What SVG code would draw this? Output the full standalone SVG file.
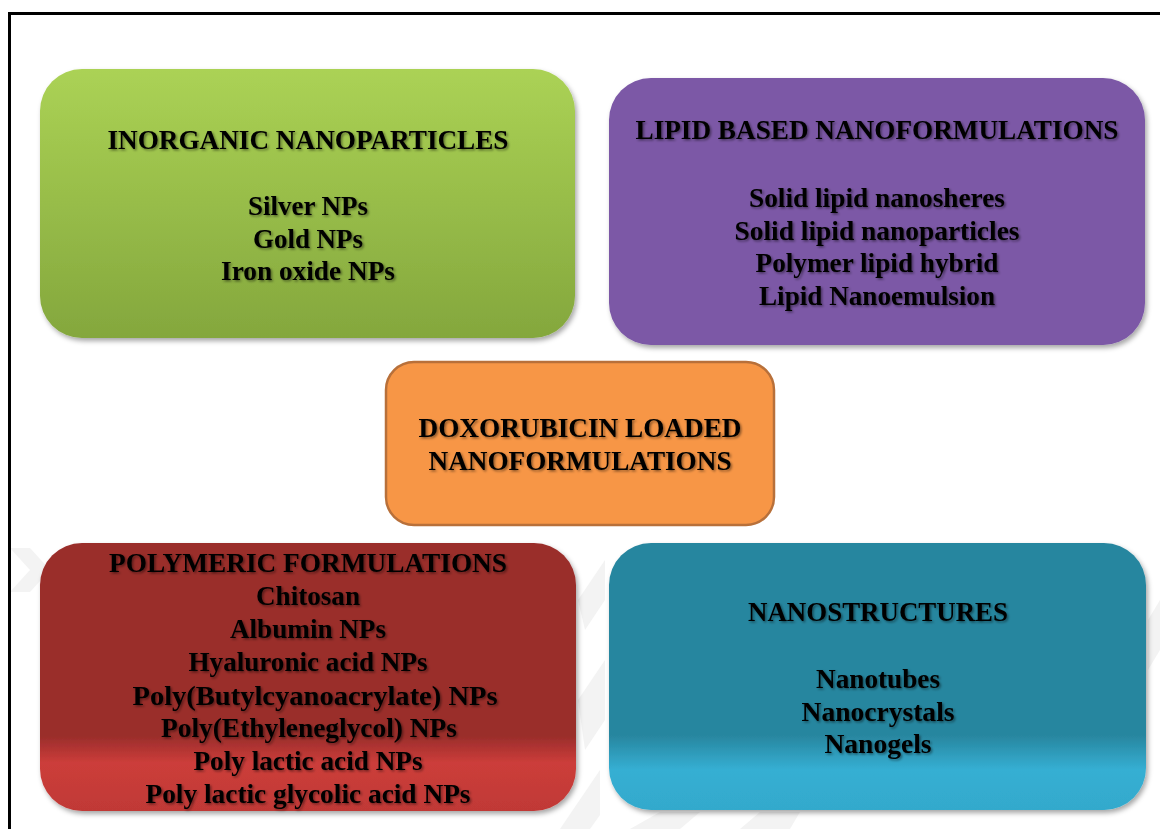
<svg xmlns="http://www.w3.org/2000/svg" width="1160" height="829" viewBox="0 0 1160 829">
  <defs>
    <style>
      .t { font-family: "Liberation Serif", "Times New Roman", serif; font-weight: bold; font-size: 28px; fill: #000; text-anchor: middle; filter: url(#tshadow); }
      .box { filter: url(#bshadow); }
      .wm { fill: #f3f3f3; }
    </style>
    <filter id="tshadow" x="-5%" y="-30%" width="110%" height="160%">
      <feDropShadow dx="1.5" dy="1.5" stdDeviation="1.2" flood-color="#000" flood-opacity="0.45"/>
    </filter>
    <filter id="bshadow" x="-5%" y="-5%" width="112%" height="115%">
      <feDropShadow dx="2" dy="3" stdDeviation="2.5" flood-color="#000" flood-opacity="0.35"/>
    </filter>
    <linearGradient id="gGreen" x1="0" y1="0" x2="0" y2="1">
      <stop offset="0" stop-color="#abd255"/>
      <stop offset="1" stop-color="#84a73d"/>
    </linearGradient>
    <linearGradient id="gRed" x1="0" y1="0" x2="0" y2="1">
      <stop offset="0" stop-color="#9a2d2b"/>
      <stop offset="0.72" stop-color="#9a2d2b"/>
      <stop offset="0.82" stop-color="#cc3d3a"/>
      <stop offset="1" stop-color="#c03936"/>
    </linearGradient>
    <linearGradient id="gTeal" x1="0" y1="0" x2="0" y2="1">
      <stop offset="0" stop-color="#28869f"/>
      <stop offset="0.72" stop-color="#28869f"/>
      <stop offset="0.85" stop-color="#35afd3"/>
      <stop offset="1" stop-color="#33a9cc"/>
    </linearGradient>
  </defs>

  <rect width="1160" height="829" fill="#fff"/>

  <!-- faint watermark -->
  <g id="watermark">
    <polygon class="wm" points="10,548 30,548 50,570 30,592 10,592 30,570"/>
    <polygon class="wm" points="560,829 590,829 600,815 600,770"/>
    <polygon class="wm" points="578,600 605,560 605,600 585,630"/>
    <polygon class="wm" points="578,700 605,660 605,720 585,750"/>
    <polygon class="wm" points="630,829 660,812 700,812 680,829"/>
    <polygon class="wm" points="740,829 760,812 800,812 790,829"/>
    <polygon class="wm" points="1148,620 1160,600 1160,650 1148,670"/>
  </g>

  <!-- frame -->
  <polyline points="9.5,829 9.5,13.5 1160,13.5" fill="none" stroke="#000" stroke-width="3"/>

  <g id="connectors"></g>

  <g id="inorganic">
    <rect class="box" x="40" y="69" width="535" height="269" rx="42" ry="42" fill="url(#gGreen)"/>
    <text class="t" x="308" y="149" textLength="401" lengthAdjust="spacingAndGlyphs">INORGANIC NANOPARTICLES</text>
    <text class="t" x="308" y="215" textLength="120" lengthAdjust="spacingAndGlyphs">Silver NPs</text>
    <text class="t" x="308" y="248" textLength="110" lengthAdjust="spacingAndGlyphs">Gold NPs</text>
    <text class="t" x="308" y="280" textLength="174" lengthAdjust="spacingAndGlyphs">Iron oxide NPs</text>
  </g>

  <g id="lipid">
    <rect class="box" x="609" y="78" width="536" height="267" rx="42" ry="42" fill="#7b58a6"/>
    <text class="t" x="877" y="139" textLength="483" lengthAdjust="spacingAndGlyphs">LIPID BASED NANOFORMULATIONS</text>
    <text class="t" x="877" y="207" textLength="256" lengthAdjust="spacingAndGlyphs">Solid lipid nanosheres</text>
    <text class="t" x="877" y="240" textLength="285" lengthAdjust="spacingAndGlyphs">Solid lipid nanoparticles</text>
    <text class="t" x="877" y="272" textLength="243" lengthAdjust="spacingAndGlyphs">Polymer lipid hybrid</text>
    <text class="t" x="877" y="305" textLength="236" lengthAdjust="spacingAndGlyphs">Lipid Nanoemulsion</text>
  </g>

  <g id="doxorubicin">
    <rect x="386" y="362" width="388" height="163" rx="28" ry="28" fill="#f79646" stroke="#b8703a" stroke-width="2.5"/>
    <text class="t" x="580" y="437" textLength="323" lengthAdjust="spacingAndGlyphs">DOXORUBICIN LOADED</text>
    <text class="t" x="580" y="470" textLength="303" lengthAdjust="spacingAndGlyphs">NANOFORMULATIONS</text>
  </g>

  <g id="polymeric">
    <rect class="box" x="40" y="543" width="536" height="268" rx="42" ry="42" fill="url(#gRed)"/>
    <text class="t" x="308" y="572" textLength="398" lengthAdjust="spacingAndGlyphs">POLYMERIC FORMULATIONS</text>
    <text class="t" x="308" y="605" textLength="104" lengthAdjust="spacingAndGlyphs">Chitosan</text>
    <text class="t" x="308" y="638" textLength="156" lengthAdjust="spacingAndGlyphs">Albumin NPs</text>
    <text class="t" x="308" y="671" textLength="239" lengthAdjust="spacingAndGlyphs">Hyaluronic acid NPs</text>
    <text class="t" x="315" y="705" textLength="365" lengthAdjust="spacingAndGlyphs">Poly(Butylcyanoacrylate) NPs</text>
    <text class="t" x="309" y="737" textLength="296" lengthAdjust="spacingAndGlyphs">Poly(Ethyleneglycol) NPs</text>
    <text class="t" x="308" y="770" textLength="229" lengthAdjust="spacingAndGlyphs">Poly lactic acid NPs</text>
    <text class="t" x="308" y="803" textLength="325" lengthAdjust="spacingAndGlyphs">Poly lactic glycolic acid NPs</text>
  </g>

  <g id="nanostructures">
    <rect class="box" x="609" y="543" width="537" height="267" rx="42" ry="42" fill="url(#gTeal)"/>
    <text class="t" x="878" y="621" textLength="260" lengthAdjust="spacingAndGlyphs">NANOSTRUCTURES</text>
    <text class="t" x="878" y="688" textLength="124" lengthAdjust="spacingAndGlyphs">Nanotubes</text>
    <text class="t" x="878" y="721" textLength="153" lengthAdjust="spacingAndGlyphs">Nanocrystals</text>
    <text class="t" x="878" y="753" textLength="107" lengthAdjust="spacingAndGlyphs">Nanogels</text>
  </g>
</svg>
